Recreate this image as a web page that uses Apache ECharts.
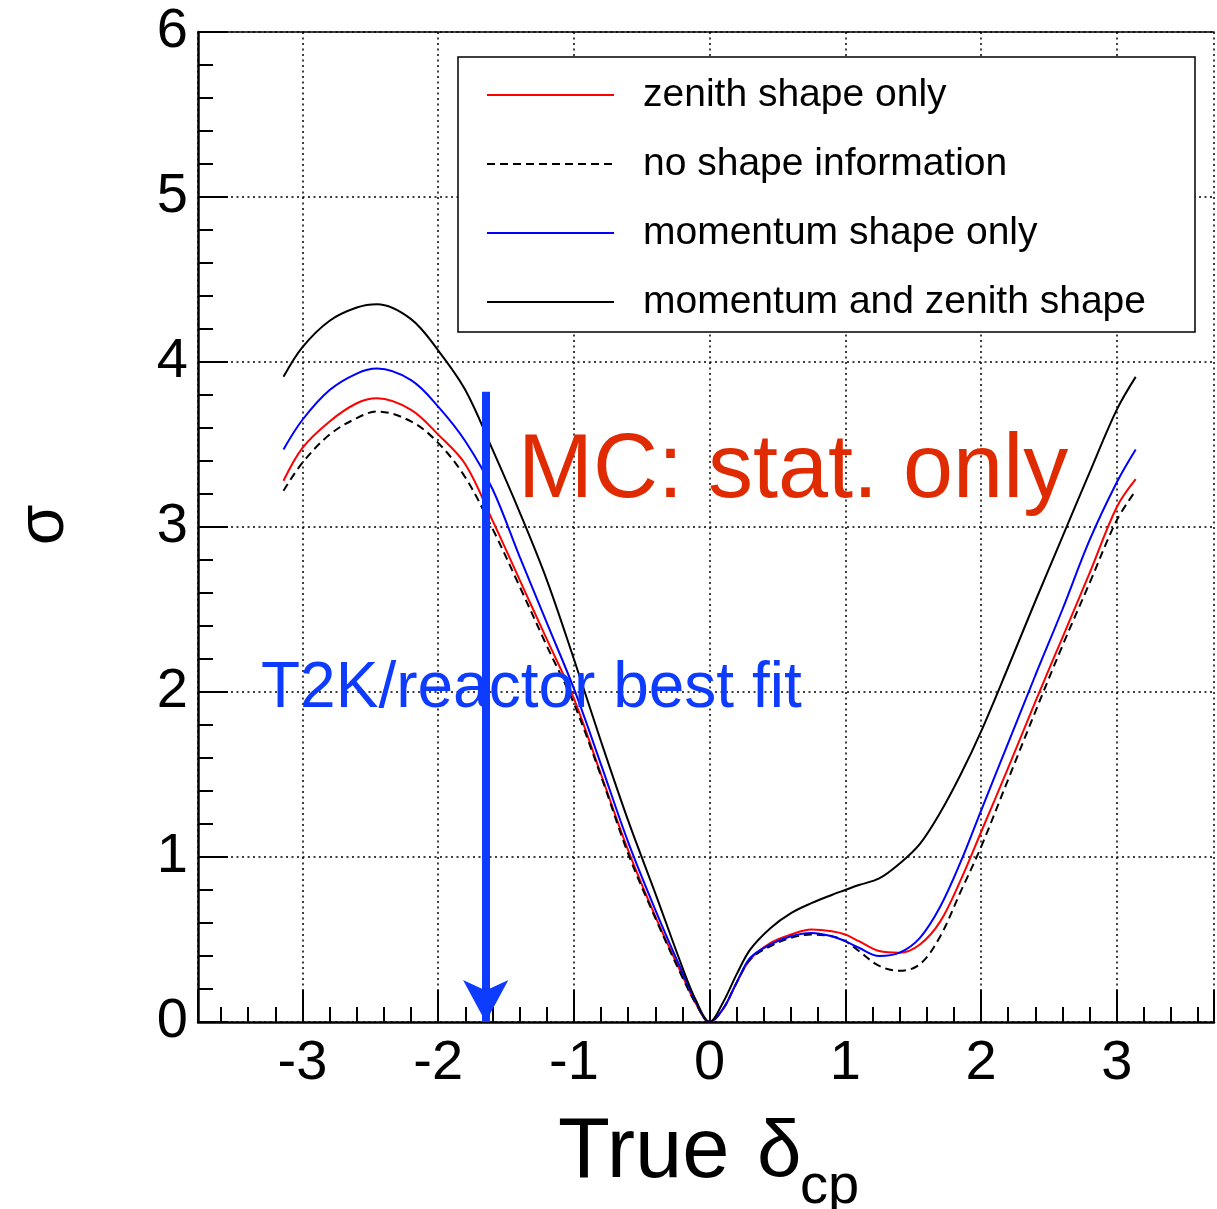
<!DOCTYPE html>
<html>
<head>
<meta charset="utf-8">
<script src="https://cdn.jsdelivr.net/npm/echarts@6/dist/echarts.min.js"></script>
<style>
html,body{margin:0;padding:0;background:#fff;}
#chart{width:1217px;height:1209px;}
</style>
</head>
<body>
<div id="chart"></div>
<script>
// True delta_cp sample points
const xVals = [-3.14,-3.0,-2.8,-2.6,-2.45,-2.2,-2.0,-1.8,-1.6,-1.4,-1.2,-1.0,-0.8,-0.6,-0.4,-0.2,-0.1,0,0.1,0.2,0.3,0.45,0.6,0.75,0.9,1.0,1.1,1.25,1.4,1.55,1.7,1.85,2.0,2.2,2.4,2.6,2.8,3.0,3.14];
// sigma values
const zenithOnly = [3.28,3.48,3.64,3.75,3.78,3.71,3.56,3.38,3.04,2.68,2.32,1.96,1.50,1.04,0.64,0.28,0.11,0,0.08,0.24,0.38,0.48,0.53,0.56,0.55,0.53,0.49,0.43,0.42,0.47,0.61,0.86,1.15,1.54,1.94,2.33,2.72,3.12,3.29];
const noShape = [3.22,3.39,3.56,3.66,3.70,3.64,3.51,3.30,2.99,2.64,2.28,1.93,1.49,1.02,0.63,0.27,0.11,0,0.08,0.24,0.38,0.46,0.51,0.53,0.52,0.49,0.43,0.34,0.31,0.35,0.52,0.79,1.06,1.47,1.88,2.28,2.66,3.04,3.22];
const momentumOnly = [3.47,3.65,3.83,3.93,3.96,3.89,3.73,3.52,3.23,2.82,2.42,2.02,1.56,1.09,0.68,0.30,0.12,0,0.08,0.24,0.39,0.47,0.52,0.54,0.52,0.49,0.45,0.40,0.42,0.51,0.70,0.97,1.28,1.69,2.10,2.50,2.92,3.27,3.47];
const momentumZenith = [3.91,4.09,4.25,4.33,4.35,4.26,4.07,3.83,3.47,3.09,2.68,2.20,1.70,1.22,0.78,0.33,0.13,0,0.12,0.29,0.44,0.57,0.66,0.72,0.77,0.80,0.83,0.87,0.96,1.08,1.27,1.50,1.76,2.15,2.55,2.94,3.33,3.71,3.91];
const seriesNames = ['zenith shape only','no shape information','momentum shape only','momentum and zenith shape'];
// T2K/reactor best fit marker
const bestFitDelta = -1.65;
const arrowFrom = 3.82;
const arrowTo = 0;
// visible x range (plot frame is cut at the right edge)
const xMin = -3.77, xMax = 3.717;

const FONT = 'Liberation Sans, Arial, Helvetica, sans-serif';
const pair = arr => xVals.map((x, i) => [x, arr[i]]);
const gridLine = {show: true, lineStyle: {color: '#000', width: 1.5, type: [2, 3.5]}};

const chart = echarts.init(document.getElementById('chart'), null, {renderer: 'canvas'});
const mkLine = (name, data, color, type, extra) => Object.assign({
  name: name, type: 'line', data: pair(data), symbol: 'none', smooth: 0.35, clip: false,
  lineStyle: {color: color, width: 2, type: type}, itemStyle: {color: color}, z: 3
}, extra || {});

chart.setOption({
  animation: false,
  backgroundColor: '#fff',
  grid: {left: 198, top: 32, right: 0, bottom: 187, show: false},
  xAxis: [{
    type: 'value', min: xMin, max: xMax, splitNumber: 7,
    axisLine: {show: true, onZero: false, lineStyle: {color: '#000', width: 2.5}},
    axisTick: {show: true, inside: true, length: 32, lineStyle: {color: '#000', width: 2}},
    minorTick: {show: true, splitNumber: 5, length: 15, lineStyle: {color: '#000', width: 2}},
    axisLabel: {show: true, margin: 14, fontSize: 56, color: '#000', fontFamily: FONT,
      formatter: v => (Math.abs(v - Math.round(v)) < 1e-6 ? String(Math.round(v)) : '')},
    splitLine: gridLine
  }, {
    type: 'value', position: 'top', min: xMin, max: xMax,
    axisLine: {show: true, onZero: false, lineStyle: {color: '#000', width: 1.5}},
    axisTick: {show: false}, axisLabel: {show: false}, splitLine: {show: false}
  }],
  yAxis: {
    type: 'value', min: 0, max: 6, interval: 1,
    axisLine: {show: true, onZero: false, lineStyle: {color: '#000', width: 2.5}},
    axisTick: {show: true, inside: true, length: 30, lineStyle: {color: '#000', width: 2}},
    minorTick: {show: true, splitNumber: 5, length: 15, lineStyle: {color: '#000', width: 2}},
    axisLabel: {show: true, margin: 10, fontSize: 56, color: '#000', fontFamily: FONT},
    splitLine: gridLine
  },
  legend: {
    orient: 'vertical', left: 486, top: 75, padding: 0,
    itemWidth: 127, itemHeight: 40, itemGap: 29,
    data: seriesNames,
    itemStyle: {opacity: 0},
    textStyle: {fontSize: 39, color: '#000', fontFamily: FONT, lineHeight: 40, padding: [0, 0, 0, 24]},
    z: 6
  },
  graphic: [
    {type: 'rect', z: 5, shape: {x: 458, y: 57, width: 737, height: 275},
      style: {fill: '#fff', stroke: '#000', lineWidth: 1.5}},
    {type: 'text', z: 7, x: 518, y: 472, style: {text: 'MC: stat. only', fill: '#e02a00', font: '90px ' + FONT, verticalAlign: 'middle', align: 'left'}},
    {type: 'text', z: 7, x: 261, y: 689, style: {text: 'T2K/reactor best fit', fill: '#0d3bff', font: '64px ' + FONT, verticalAlign: 'middle', align: 'left'}},
    {type: 'text', z: 7, x: 558, y: 1154, style: {text: 'True', fill: '#000', font: '85px ' + FONT, verticalAlign: 'middle', align: 'left'}},
    {type: 'text', z: 7, x: 757, y: 1154, style: {text: 'δ', fill: '#000', font: '80px ' + FONT, verticalAlign: 'middle', align: 'left'}},
    {type: 'text', z: 7, x: 800, y: 1188, style: {text: 'cp', fill: '#000', font: '56px ' + FONT, verticalAlign: 'middle', align: 'left'}},
    {type: 'text', z: 7, x: 45, y: 525, rotation: Math.PI / 2, style: {text: 'σ', fill: '#000', font: '66px ' + FONT, verticalAlign: 'middle', align: 'center'}}
  ],
  series: [
    mkLine(seriesNames[0], zenithOnly, '#ff0000', 'solid', {
      markLine: {
        silent: true, animation: false, symbol: ['none', 'arrow'], symbolSize: [34, 42], z: 8,
        label: {show: false},
        lineStyle: {color: '#0d3bff', width: 8, type: 'solid'},
        data: [[{coord: [bestFitDelta, arrowFrom]}, {coord: [bestFitDelta, arrowTo]}]]
      }
    }),
    mkLine(seriesNames[1], noShape, '#000000', [8, 5]),
    mkLine(seriesNames[2], momentumOnly, '#0000ff', 'solid'),
    mkLine(seriesNames[3], momentumZenith, '#000000', 'solid')
  ]
});
</script>
</body>
</html>
